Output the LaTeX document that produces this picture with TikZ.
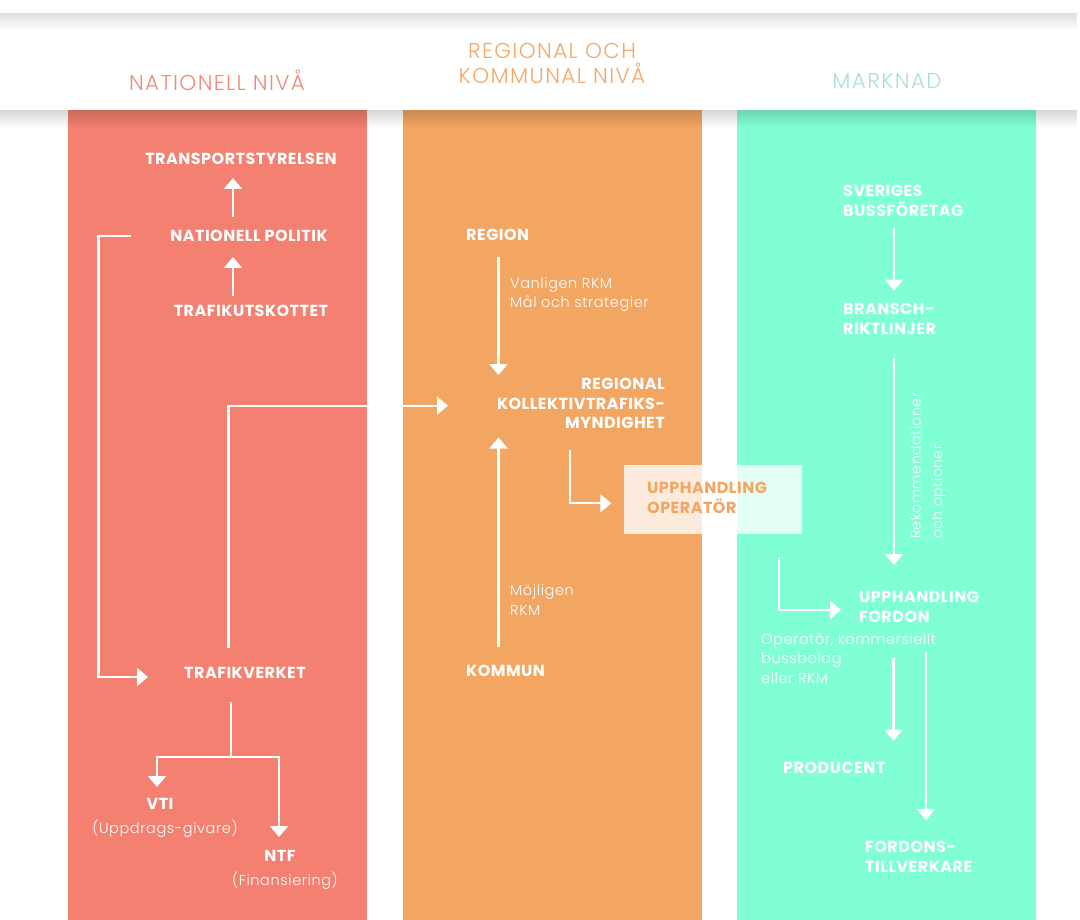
\documentclass[tikz,border=0pt]{standalone}
\usepackage{fontspec}
\setmainfont{Poppins}[LetterSpace=3]
\newfontfamily\lightf{Poppins Light}[LetterSpace=4]
\newfontfamily\headf{Poppins Light}[LetterSpace=6.5]
\usetikzlibrary{arrows.meta,fadings,calc}
\tikzfading[name=fadedn, top color=transparent!0, bottom color=transparent!100]
\definecolor{cred}{HTML}{F38070}
\definecolor{corange}{HTML}{F3A562}
\definecolor{cgreen}{HTML}{80FFD4}
\definecolor{hred}{HTML}{F2897B}
\definecolor{horange}{HTML}{F3A86A}
\definecolor{hgreen}{HTML}{A6E4CE}
\tikzset{
  lab/.style={font=\bfseries\fontsize{16}{19.5}\selectfont, text=white, inner sep=0pt},
  single/.style={lab, text height=11pt, text depth=0pt},
  multi/.style={lab, align=left},
  note/.style={font=\lightf\fontsize{14.5}{19.5}\selectfont, text=white, inner sep=0pt, align=left},
  head/.style={font=\headf\fontsize{21.5}{25.5}\selectfont, inner sep=0pt, align=center},
  wire/.style={draw=white, line width=2.3pt},
  arr/.style={wire, -{Triangle[width=18pt,length=11pt]}}
}
\begin{document}
\begin{tikzpicture}[x=1pt,y=-1pt]
\useasboundingbox (0,0) rectangle (1080,920);
\fill[white] (0,0) rectangle (1080,920);
% columns
\fill[cred] (68,110) rectangle (367,920);
\fill[corange] (403,110) rectangle (702,920);
\fill[cgreen] (737,110) rectangle (1036,920);
% header band and shadows
\fill[white] (0,13) rectangle (1080,110);
\fill[black, fill opacity=0.13, path fading=fadedn] (0,13) rectangle (1080,30);
\fill[black, fill opacity=0.16, path fading=fadedn] (0,110) rectangle (1080,128);
\node[head, text=hred] (h1) at (217,80.5) {NATIONELL NIVÅ};
\node[head, text=horange] (h2) at (552,63.5) {REGIONAL OCH\\KOMMUNAL NIVÅ};
\node[head, text=hgreen] (h3) at (887,80.5) {MARKNAD};

% ---- national level
\node[single] (ts) at (241,159.5) {TRANSPORTSTYRELSEN};
\node[single] (nat) at (249,236) {NATIONELL POLITIK};
\node[single] (tu) at (251,311) {TRAFIKUTSKOTTET};
\node[single] (tv) at (245,673) {TRAFIKVERKET};
\node[single] (vti) at (160,804) {VTI};
\node[note] (vtis) at (165,829) {(Uppdrags-givare)};
\node[single] (ntf) at (280,856) {NTF};
\node[note] (ntfs) at (285,881) {(Finansiering)};

% ---- regional level
\node[single, anchor=west] (reg) at (466,235.5) {REGION};
\node[lab, align=right, anchor=north east] (rkm) at (665,378) {REGIONAL\\KOLLEKTIVTRAFIKS-\\MYNDIGHET};
\node[single, anchor=west] (kom) at (466,671) {KOMMUN};
\node[note, anchor=north west] (n1) at (510,277) {Vanligen RKM\\Mål och strategier};
\node[note, anchor=north west] (n2) at (510,584.5) {Möjligen\\RKM};
\node[minimum width=178pt, minimum height=69pt, inner sep=0pt, fill=white, fill opacity=0.78] (upbox) at (713,499.5) {};
\node[multi, text=corange, anchor=north west] (up) at (647,482) {UPPHANDLING\\OPERATÖR};

% ---- market
\node[multi, anchor=north west] (sb) at (843,185) {SVERIGES\\BUSSFÖRETAG};
\node[multi, anchor=north west] (br) at (843,303.3) {BRANSCH-\\RIKTLINJER};
\node[multi, anchor=north west] (uf) at (859,591) {UPPHANDLING\\FORDON};
\node[note, anchor=north west] (n3) at (761,633) {Operatör, kommersiellt\\bussbolag\\eller RKM};
\node[single, anchor=west] (prod) at (783,767.5) {PRODUCENT};
\node[multi, anchor=north west] (ft) at (865,841) {FORDONS-\\TILLVERKARE};
\node[note, font=\lightf\fontsize{14}{21.5}\selectfont, rotate=90, anchor=north west] (rot) at (910,539) {Rekommendationer\\och optioner};

% ---- connectors
\draw[arr] ($(nat)+(-16,-19)$) -- ($(ts)+(-8,18.5)$);
\draw[arr] ($(tu)+(-18,-15)$) -- ($(nat)+(-16,21)$);
\draw[arr] ($(nat)+(-118,0)$) -- ++(-32.5,0) |- ($(tv)+(-97,4)$);
\draw[arr] ($(tv)+(-16.5,-25)$) |- ($(rkm.north east)+(-217,27.7)$);
\draw[wire] ($(tv)+(-14,29)$) -- ++(0,55) coordinate (fork);
\draw[arr] (fork) -| ($(vti)+(-3,-17)$);
\draw[arr] (fork) -| ($(ntf)+(-1,-19)$);

\draw[arr] ($(reg.west)+(32.5,21.5)$) -- ($(rkm.north east)+(-166.5,-3)$);
\draw[arr] ($(kom.west)+(32.5,-23.7)$) -- ($(rkm.north east)+(-166.5,59.5)$);
\draw[arr] ($(rkm.north east)+(-95,72)$) |- ($(upbox.west)+(-12.5,3.8)$);

\draw[arr] ($(sb.north west)+(51,43.3)$) -- ($(br.north west)+(51,-12.6)$);
\draw[arr] ($(br.north west)+(51,55)$) -- ($(uf.north west)+(35,-26)$);
\draw[arr] ($(upbox.south)+(66,22.5)$) |- ($(uf.north west)+(-18,19)$);
\draw[arr] ($(uf.north west)+(34.5,67)$) -- ($(prod.west)+(110.5,-26.8)$);
\draw[arr] ($(uf.north west)+(67,61)$) -- ($(ft.north west)+(61,-21)$);
\end{tikzpicture}
\end{document}
